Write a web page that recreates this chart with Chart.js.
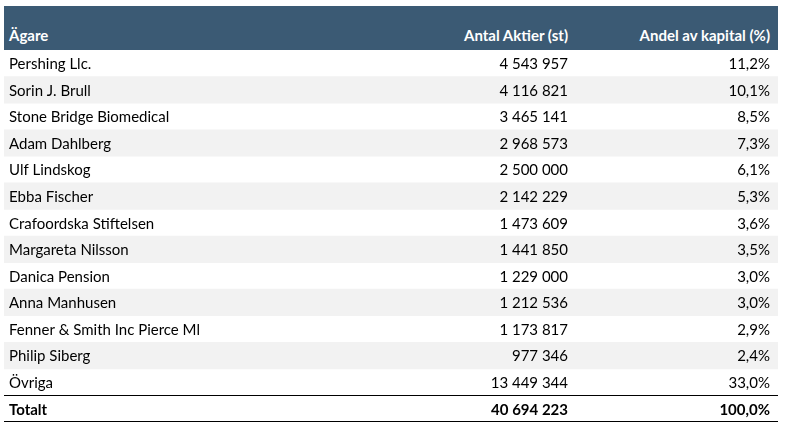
<!DOCTYPE html>
<html>
<head>
<meta charset="utf-8">
<script src="https://cdn.jsdelivr.net/npm/chart.js@4"></script>
<style>
  body { margin: 0; background: #fff; font-family: Lato, "Open Sans", sans-serif; }
  #head { position: absolute; left: 4px; top: 6px; width: 774px; height: 44px; background: #3b5a74;
          color: #fff; font-weight: bold; font-size: 15px; }
  #head span { position: absolute; bottom: 6px; }
  #wrap { position: absolute; left: 4px; top: 50px; width: 774px; height: 372px; }
</style>
</head>
<body>
<div id="head">
  <span style="left:5px">Ägare</span>
  <span style="right:210px">Antal Aktier (st)</span>
  <span style="right:8px">Andel av kapital (%)</span>
</div>
<div id="wrap"><canvas id="chart"></canvas></div>
<script>
// Table data
const owners = ['Pershing Llc.', 'Sorin J. Brull', 'Stone Bridge Biomedical', 'Adam Dahlberg',
  'Ulf Lindskog', 'Ebba Fischer', 'Crafoordska Stiftelsen', 'Margareta Nilsson', 'Danica Pension',
  'Anna Manhusen', 'Fenner & Smith Inc Pierce Ml', 'Philip Siberg', 'Övriga', 'Totalt'];
const shares = ['4 543 957', '4 116 821', '3 465 141', '2 968 573', '2 500 000', '2 142 229',
  '1 473 609', '1 441 850', '1 229 000', '1 212 536', '1 173 817', '977 346', '13 449 344', '40 694 223'];
const capital = ['11,2%', '10,1%', '8,5%', '7,3%', '6,1%', '5,3%', '3,6%', '3,5%', '3,0%',
  '3,0%', '2,9%', '2,4%', '33,0%', '100,0%'];

// Stripe on every second row
const stripes = owners.map((o, i) => (i % 2 == 1 && i < 13) ? [0, 1] : null);

// Draw cell texts and the total row lines using the y scale
const textPlugin = {
  id: 'cells',
  afterDatasetsDraw(chart) {
    const ctx = chart.ctx;
    const y = chart.scales.y;
    const w = chart.width;
    ctx.save();
    ctx.textBaseline = 'middle';
    owners.forEach((o, i) => {
      const py = y.getPixelForValue(i) + 1;
      const bold = i == owners.length - 1;
      ctx.font = (bold ? 'bold ' : '') + '15px Lato, "Open Sans", sans-serif';
      ctx.fillStyle = '#000';
      ctx.textAlign = 'left';
      ctx.fillText(o, 5, py);
      ctx.textAlign = 'right';
      ctx.fillText(shares[i], w - 210, py);
      ctx.fillText(capital[i], w - 8, py);
    });
    const last = owners.length - 1;
    const half = (y.getPixelForValue(1) - y.getPixelForValue(0)) / 2;
    ctx.strokeStyle = '#000';
    ctx.lineWidth = 1;
    [y.getPixelForValue(last) - half, y.getPixelForValue(last) + half - 1].forEach(ly => {
      ctx.beginPath();
      ctx.moveTo(0, Math.round(ly) + 0.5);
      ctx.lineTo(w, Math.round(ly) + 0.5);
      ctx.stroke();
    });
    ctx.restore();
  }
};

new Chart(document.querySelector('#chart'), {
  type: 'bar',
  data: {
    labels: owners,
    datasets: [{
      data: stripes,
      backgroundColor: '#f2f2f2',
      categoryPercentage: 1,
      barPercentage: 1
    }]
  },
  options: {
    indexAxis: 'y',
    responsive: true,
    maintainAspectRatio: false,
    animation: false,
    layout: { padding: 0 },
    plugins: { legend: { display: false }, tooltip: { enabled: false } },
    scales: {
      x: { display: false, min: 0, max: 1 },
      y: { display: false }
    }
  },
  plugins: [textPlugin]
});
</script>
</body>
</html>
